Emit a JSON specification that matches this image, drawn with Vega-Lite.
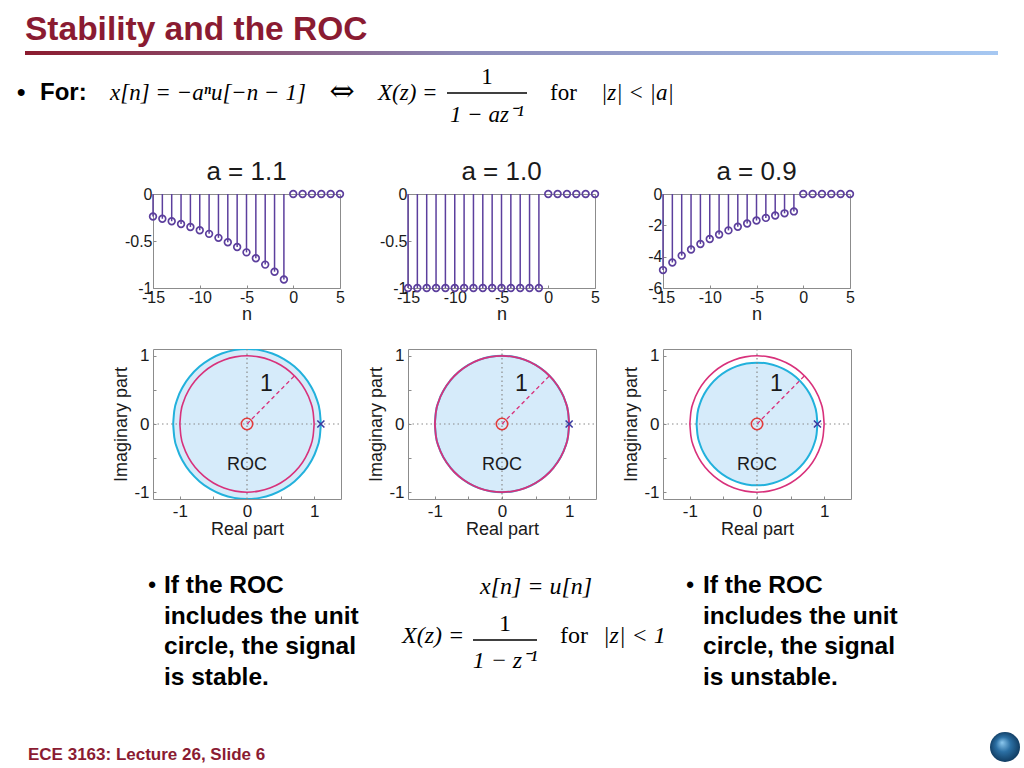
{
  "$schema": "https://vega.github.io/schema/vega-lite/v6.json",
  "padding": 0,
  "background": "white",
  "config": {
    "view": {"stroke": null},
    "font": "Liberation Sans",
    "axis": {"labelFont": "Liberation Sans", "titleFont": "Liberation Sans", "labelColor": "#1a1a1a", "titleColor": "#1a1a1a", "titleFontWeight": "normal", "domain": false, "grid": false, "tickColor": "#8c8c8c", "tickSize": -3, "labelFlush": false, "labelOverlap": false}
  },
  "datasets": {
    "stems": [
      {"a": "1.1", "n": -15, "v": -0.2394}, {"a": "1.1", "n": -14, "v": -0.2633}, {"a": "1.1", "n": -13, "v": -0.2897}, {"a": "1.1", "n": -12, "v": -0.3186}, {"a": "1.1", "n": -11, "v": -0.3505}, {"a": "1.1", "n": -10, "v": -0.3855}, {"a": "1.1", "n": -9, "v": -0.4241}, {"a": "1.1", "n": -8, "v": -0.4665}, {"a": "1.1", "n": -7, "v": -0.5132}, {"a": "1.1", "n": -6, "v": -0.5645}, {"a": "1.1", "n": -5, "v": -0.6209}, {"a": "1.1", "n": -4, "v": -0.683}, {"a": "1.1", "n": -3, "v": -0.7513}, {"a": "1.1", "n": -2, "v": -0.8264}, {"a": "1.1", "n": -1, "v": -0.9091}, {"a": "1.1", "n": 0, "v": 0}, {"a": "1.1", "n": 1, "v": 0}, {"a": "1.1", "n": 2, "v": 0}, {"a": "1.1", "n": 3, "v": 0}, {"a": "1.1", "n": 4, "v": 0}, {"a": "1.1", "n": 5, "v": 0},
      {"a": "1.0", "n": -15, "v": -1}, {"a": "1.0", "n": -14, "v": -1}, {"a": "1.0", "n": -13, "v": -1}, {"a": "1.0", "n": -12, "v": -1}, {"a": "1.0", "n": -11, "v": -1}, {"a": "1.0", "n": -10, "v": -1}, {"a": "1.0", "n": -9, "v": -1}, {"a": "1.0", "n": -8, "v": -1}, {"a": "1.0", "n": -7, "v": -1}, {"a": "1.0", "n": -6, "v": -1}, {"a": "1.0", "n": -5, "v": -1}, {"a": "1.0", "n": -4, "v": -1}, {"a": "1.0", "n": -3, "v": -1}, {"a": "1.0", "n": -2, "v": -1}, {"a": "1.0", "n": -1, "v": -1}, {"a": "1.0", "n": 0, "v": 0}, {"a": "1.0", "n": 1, "v": 0}, {"a": "1.0", "n": 2, "v": 0}, {"a": "1.0", "n": 3, "v": 0}, {"a": "1.0", "n": 4, "v": 0}, {"a": "1.0", "n": 5, "v": 0},
      {"a": "0.9", "n": -15, "v": -4.857}, {"a": "0.9", "n": -14, "v": -4.3713}, {"a": "0.9", "n": -13, "v": -3.9342}, {"a": "0.9", "n": -12, "v": -3.5407}, {"a": "0.9", "n": -11, "v": -3.1866}, {"a": "0.9", "n": -10, "v": -2.868}, {"a": "0.9", "n": -9, "v": -2.5812}, {"a": "0.9", "n": -8, "v": -2.3231}, {"a": "0.9", "n": -7, "v": -2.0908}, {"a": "0.9", "n": -6, "v": -1.8817}, {"a": "0.9", "n": -5, "v": -1.6935}, {"a": "0.9", "n": -4, "v": -1.5242}, {"a": "0.9", "n": -3, "v": -1.3717}, {"a": "0.9", "n": -2, "v": -1.2346}, {"a": "0.9", "n": -1, "v": -1.1111}, {"a": "0.9", "n": 0, "v": 0}, {"a": "0.9", "n": 1, "v": 0}, {"a": "0.9", "n": 2, "v": 0}, {"a": "0.9", "n": 3, "v": 0}, {"a": "0.9", "n": 4, "v": 0}, {"a": "0.9", "n": 5, "v": 0}
    ],
    "circ": [
      {"c": "r11", "x": 1.1, "y": 0, "y2": 0}, {"c": "r11", "x": 1.0833, "y": 0.191, "y2": -0.191}, {"c": "r11", "x": 1.0337, "y": 0.3762, "y2": -0.3762}, {"c": "r11", "x": 0.9526, "y": 0.55, "y2": -0.55}, {"c": "r11", "x": 0.8426, "y": 0.7071, "y2": -0.7071}, {"c": "r11", "x": 0.7071, "y": 0.8426, "y2": -0.8426}, {"c": "r11", "x": 0.55, "y": 0.9526, "y2": -0.9526}, {"c": "r11", "x": 0.3762, "y": 1.0337, "y2": -1.0337}, {"c": "r11", "x": 0.191, "y": 1.0833, "y2": -1.0833}, {"c": "r11", "x": 0, "y": 1.1, "y2": -1.1}, {"c": "r11", "x": -0.191, "y": 1.0833, "y2": -1.0833}, {"c": "r11", "x": -0.3762, "y": 1.0337, "y2": -1.0337}, {"c": "r11", "x": -0.55, "y": 0.9526, "y2": -0.9526}, {"c": "r11", "x": -0.7071, "y": 0.8426, "y2": -0.8426}, {"c": "r11", "x": -0.8426, "y": 0.7071, "y2": -0.7071}, {"c": "r11", "x": -0.9526, "y": 0.55, "y2": -0.55}, {"c": "r11", "x": -1.0337, "y": 0.3762, "y2": -0.3762}, {"c": "r11", "x": -1.0833, "y": 0.191, "y2": -0.191}, {"c": "r11", "x": -1.1, "y": 0, "y2": 0},
      {"c": "r10", "x": 1, "y": 0, "y2": 0}, {"c": "r10", "x": 0.9848, "y": 0.1736, "y2": -0.1736}, {"c": "r10", "x": 0.9397, "y": 0.342, "y2": -0.342}, {"c": "r10", "x": 0.866, "y": 0.5, "y2": -0.5}, {"c": "r10", "x": 0.766, "y": 0.6428, "y2": -0.6428}, {"c": "r10", "x": 0.6428, "y": 0.766, "y2": -0.766}, {"c": "r10", "x": 0.5, "y": 0.866, "y2": -0.866}, {"c": "r10", "x": 0.342, "y": 0.9397, "y2": -0.9397}, {"c": "r10", "x": 0.1736, "y": 0.9848, "y2": -0.9848}, {"c": "r10", "x": 0, "y": 1, "y2": -1}, {"c": "r10", "x": -0.1736, "y": 0.9848, "y2": -0.9848}, {"c": "r10", "x": -0.342, "y": 0.9397, "y2": -0.9397}, {"c": "r10", "x": -0.5, "y": 0.866, "y2": -0.866}, {"c": "r10", "x": -0.6428, "y": 0.766, "y2": -0.766}, {"c": "r10", "x": -0.766, "y": 0.6428, "y2": -0.6428}, {"c": "r10", "x": -0.866, "y": 0.5, "y2": -0.5}, {"c": "r10", "x": -0.9397, "y": 0.342, "y2": -0.342}, {"c": "r10", "x": -0.9848, "y": 0.1736, "y2": -0.1736}, {"c": "r10", "x": -1, "y": 0, "y2": 0},
      {"c": "r09", "x": 0.9, "y": 0, "y2": 0}, {"c": "r09", "x": 0.8863, "y": 0.1563, "y2": -0.1563}, {"c": "r09", "x": 0.8457, "y": 0.3078, "y2": -0.3078}, {"c": "r09", "x": 0.7794, "y": 0.45, "y2": -0.45}, {"c": "r09", "x": 0.6894, "y": 0.5785, "y2": -0.5785}, {"c": "r09", "x": 0.5785, "y": 0.6894, "y2": -0.6894}, {"c": "r09", "x": 0.45, "y": 0.7794, "y2": -0.7794}, {"c": "r09", "x": 0.3078, "y": 0.8457, "y2": -0.8457}, {"c": "r09", "x": 0.1563, "y": 0.8863, "y2": -0.8863}, {"c": "r09", "x": 0, "y": 0.9, "y2": -0.9}, {"c": "r09", "x": -0.1563, "y": 0.8863, "y2": -0.8863}, {"c": "r09", "x": -0.3078, "y": 0.8457, "y2": -0.8457}, {"c": "r09", "x": -0.45, "y": 0.7794, "y2": -0.7794}, {"c": "r09", "x": -0.5785, "y": 0.6894, "y2": -0.6894}, {"c": "r09", "x": -0.6894, "y": 0.5785, "y2": -0.5785}, {"c": "r09", "x": -0.7794, "y": 0.45, "y2": -0.45}, {"c": "r09", "x": -0.8457, "y": 0.3078, "y2": -0.3078}, {"c": "r09", "x": -0.8863, "y": 0.1563, "y2": -0.1563}, {"c": "r09", "x": -0.9, "y": 0, "y2": 0}
    ]
  },
  "vconcat": [
    {
      "width": 1024, "height": 136,
      "encoding": {
        "x": {"field": "x", "type": "quantitative", "scale": {"domain": [0, 1024], "nice": false, "zero": false}, "axis": null},
        "y": {"field": "y", "type": "quantitative", "scale": {"domain": [0, 136], "reverse": true, "nice": false, "zero": false}, "axis": null}
      },
      "layer": [
        {"data": {"values": [{"x": 25, "y": 40, "t": "Stability and the ROC"}]}, "mark": {"type": "text", "align": "left", "baseline": "alphabetic", "font": "Liberation Sans", "fontWeight": "bold", "fontSize": 33.5, "color": "#8a1b32"}, "encoding": {"text": {"field": "t"}}},
        {"data": {"values": [{"x": 25, "x2": 998, "y": 51, "y2": 55}]}, "mark": {"type": "rect", "fill": {"gradient": "linear", "x1": 0, "y1": 0, "x2": 1, "y2": 0, "stops": [{"offset": 0, "color": "#8b1a2e"}, {"offset": 0.45, "color": "#8a88b6"}, {"offset": 1, "color": "#a6c8f2"}]}}, "encoding": {"x2": {"field": "x2"}, "y2": {"field": "y2"}}},
        {"data": {"values": [{"x": 17, "y": 100, "t": "•"}, {"x": 40, "y": 100, "t": "For:"}]}, "mark": {"type": "text", "align": "left", "baseline": "alphabetic", "font": "Liberation Sans", "fontWeight": "bold", "fontSize": 24, "color": "#000000"}, "encoding": {"text": {"field": "t"}}},
        {"data": {"values": [{"x": 110, "y": 100, "t": "x[n] = −aⁿu[−n − 1]"}, {"x": 378, "y": 100, "t": "X(z) ="}, {"x": 601, "y": 100, "t": "|z| < |a|"}]}, "mark": {"type": "text", "align": "left", "baseline": "alphabetic", "font": "Liberation Serif", "fontStyle": "italic", "fontSize": 23, "color": "#000000"}, "encoding": {"text": {"field": "t"}}},
        {"data": {"values": [{"x": 550, "y": 100, "t": "for"}]}, "mark": {"type": "text", "align": "left", "baseline": "alphabetic", "font": "Liberation Serif", "fontSize": 23, "color": "#000000"}, "encoding": {"text": {"field": "t"}}},
        {"data": {"values": [{"x": 342, "y": 101, "t": "⇔"}]}, "mark": {"type": "text", "align": "center", "baseline": "alphabetic", "font": "DejaVu Serif", "fontSize": 30, "color": "#000000"}, "encoding": {"text": {"field": "t"}}},
        {"data": {"values": [{"x": 487, "y": 84, "t": "1"}]}, "mark": {"type": "text", "align": "center", "baseline": "alphabetic", "font": "Liberation Serif", "fontSize": 23, "color": "#000000"}, "encoding": {"text": {"field": "t"}}},
        {"data": {"values": [{"x": 487, "y": 122, "t": "1 − az⁻¹"}]}, "mark": {"type": "text", "align": "center", "baseline": "alphabetic", "font": "Liberation Serif", "fontStyle": "italic", "fontSize": 23, "color": "#000000"}, "encoding": {"text": {"field": "t"}}},
        {"data": {"values": [{"x": 447, "x2": 527, "y": 93}]}, "mark": {"type": "rule", "color": "#000000", "strokeWidth": 1.3}, "encoding": {"x2": {"field": "x2"}}}
      ]
    },
    {
      "hconcat": [
        {"width": 85, "height": 94, "data": {"values": [{"t": ""}]}, "mark": {"type": "text"}, "encoding": {"text": {"field": "t"}}},
        {
          "width": 187, "height": 94,
          "view": {"stroke": "#8c8c8c"},
          "title": {"text": "a = 1.1", "fontSize": 26, "font": "Liberation Sans", "fontWeight": "normal", "color": "#1a1a1a", "anchor": "middle", "frame": "group", "baseline": "alphabetic", "offset": -20},
          "data": {"name": "stems"},
          "transform": [{"filter": "datum.a == '1.1'"}],
          "encoding": {
            "x": {"field": "n", "type": "quantitative", "scale": {"domain": [-15, 5], "nice": false, "zero": false}, "axis": {"values": [-15, -10, -5, 0, 5], "labelExpr": "toString(datum.value)", "title": "n", "labelFontSize": 16, "titleFontSize": 18, "labelPadding": 4, "titlePadding": 0}},
            "y": {"field": "v", "type": "quantitative", "scale": {"domain": [-1, 0], "nice": false, "zero": false}, "axis": {"values": [-1, -0.5, 0], "labelExpr": "toString(datum.value)", "title": null, "labelFontSize": 16, "labelPadding": 4}}
          },
          "layer": [
            {"mark": {"type": "rule", "color": "#5c3f9d", "strokeWidth": 1.5}, "encoding": {"y2": {"datum": 0}}},
            {"mark": {"type": "point", "shape": "circle", "filled": false, "color": "#5c3f9d", "size": 45, "strokeWidth": 1.7, "opacity": 1}}
          ]
        },
        {
          "width": 187, "height": 94,
          "view": {"stroke": "#8c8c8c"},
          "title": {"text": "a = 1.0", "fontSize": 26, "font": "Liberation Sans", "fontWeight": "normal", "color": "#1a1a1a", "anchor": "middle", "frame": "group", "baseline": "alphabetic", "offset": -20},
          "data": {"name": "stems"},
          "transform": [{"filter": "datum.a == '1.0'"}],
          "encoding": {
            "x": {"field": "n", "type": "quantitative", "scale": {"domain": [-15, 5], "nice": false, "zero": false}, "axis": {"values": [-15, -10, -5, 0, 5], "labelExpr": "toString(datum.value)", "title": "n", "labelFontSize": 16, "titleFontSize": 18, "labelPadding": 4, "titlePadding": 0}},
            "y": {"field": "v", "type": "quantitative", "scale": {"domain": [-1, 0], "nice": false, "zero": false}, "axis": {"values": [-1, -0.5, 0], "labelExpr": "toString(datum.value)", "title": null, "labelFontSize": 16, "labelPadding": 4}}
          },
          "layer": [
            {"mark": {"type": "rule", "color": "#5c3f9d", "strokeWidth": 1.5}, "encoding": {"y2": {"datum": 0}}},
            {"mark": {"type": "point", "shape": "circle", "filled": false, "color": "#5c3f9d", "size": 45, "strokeWidth": 1.7, "opacity": 1}}
          ]
        },
        {
          "width": 187, "height": 94,
          "view": {"stroke": "#8c8c8c"},
          "title": {"text": "a = 0.9", "fontSize": 26, "font": "Liberation Sans", "fontWeight": "normal", "color": "#1a1a1a", "anchor": "middle", "frame": "group", "baseline": "alphabetic", "offset": -20},
          "data": {"name": "stems"},
          "transform": [{"filter": "datum.a == '0.9'"}],
          "encoding": {
            "x": {"field": "n", "type": "quantitative", "scale": {"domain": [-15, 5], "nice": false, "zero": false}, "axis": {"values": [-15, -10, -5, 0, 5], "labelExpr": "toString(datum.value)", "title": "n", "labelFontSize": 16, "titleFontSize": 18, "labelPadding": 4, "titlePadding": 0}},
            "y": {"field": "v", "type": "quantitative", "scale": {"domain": [-6, 0], "nice": false, "zero": false}, "axis": {"values": [-6, -4, -2, 0], "labelExpr": "toString(datum.value)", "title": null, "labelFontSize": 16, "labelPadding": 4}}
          },
          "layer": [
            {"mark": {"type": "rule", "color": "#5c3f9d", "strokeWidth": 1.5}, "encoding": {"y2": {"datum": 0}}},
            {"mark": {"type": "point", "shape": "circle", "filled": false, "color": "#5c3f9d", "size": 45, "strokeWidth": 1.7, "opacity": 1}}
          ]
        }
      ],
      "spacing": 68,
      "bounds": "flush"
    },
    {
      "hconcat": [
        {"width": 86, "height": 150, "data": {"values": [{"t": ""}]}, "mark": {"type": "text"}, "encoding": {"text": {"field": "t"}}},
        {
          "width": 188, "height": 150,
          "view": {"stroke": "#8c8c8c"},
          "encoding": {
            "x": {"field": "x", "type": "quantitative", "scale": {"domain": [-1.4, 1.4], "nice": false, "zero": false}, "axis": {"values": [-1, -0.5, 0, 0.5, 1], "labelExpr": "datum.value % 1 === 0 ? toString(datum.value) : ''", "title": "Real part", "labelFontSize": 17, "titleFontSize": 18, "labelPadding": 7, "titlePadding": 1}},
            "y": {"field": "y", "type": "quantitative", "scale": {"domain": [-1.1, 1.1], "nice": false, "zero": false}, "axis": {"values": [-1, -0.5, 0, 0.5, 1], "labelExpr": "datum.value % 1 === 0 ? toString(datum.value) : ''", "title": "Imaginary part", "labelFontSize": 17, "titleFontSize": 18, "labelPadding": 7, "titlePadding": 3}}
          },
          "layer": [
            {"data": {"name": "circ"}, "transform": [{"filter": "datum.c == 'r11'"}], "mark": {"type": "area", "interpolate": "monotone", "fill": "#d6ebfa", "stroke": "#22b1dc", "strokeWidth": 2, "fillOpacity": 1, "clip": true}, "encoding": {"y2": {"field": "y2"}}},
            {"data": {"values": [{"x": 0, "y": -1.1}, {"x": 0, "y": 1.1}]}, "mark": {"type": "line", "color": "#8a8a8a", "strokeWidth": 1.2, "strokeDash": [1.5, 3]}},
            {"data": {"values": [{"x": -1.4, "y": 0}, {"x": 1.4, "y": 0}]}, "mark": {"type": "line", "color": "#8a8a8a", "strokeWidth": 1.2, "strokeDash": [1.5, 3]}},
            {"data": {"name": "circ"}, "transform": [{"filter": "datum.c == 'r10'"}], "mark": {"type": "area", "interpolate": "monotone", "fill": "transparent", "stroke": "#d8317b", "strokeWidth": 1.6, "clip": true}, "encoding": {"y2": {"field": "y2"}}},
            {"data": {"values": [{"x": 0, "y": 0}, {"x": 0.7071, "y": 0.7071}]}, "mark": {"type": "line", "color": "#d8317b", "strokeWidth": 1.3, "strokeDash": [4, 3]}},
            {"data": {"values": [{"x": 0, "y": 0}]}, "mark": {"type": "point", "shape": "circle", "filled": false, "color": "#e23a3a", "size": 130, "strokeWidth": 1.6, "opacity": 1}},
            {"data": {"values": [{"x": 1.1, "y": 0}]}, "mark": {"type": "point", "shape": "M-1,-1L1,1M-1,1L1,-1", "filled": false, "color": "#3a3aa0", "size": 50, "strokeWidth": 1.6, "opacity": 1}},
            {"data": {"values": [{"x": 0.29, "y": 0.58, "t": "1"}]}, "mark": {"type": "text", "font": "Liberation Sans", "fontSize": 23, "color": "#1a1a1a"}, "encoding": {"text": {"field": "t"}}},
            {"data": {"values": [{"x": 0, "y": -0.6, "t": "ROC"}]}, "mark": {"type": "text", "font": "Liberation Sans", "fontSize": 18, "color": "#1a1a1a"}, "encoding": {"text": {"field": "t"}}}
          ]
        },
        {
          "width": 188, "height": 150,
          "view": {"stroke": "#8c8c8c"},
          "encoding": {
            "x": {"field": "x", "type": "quantitative", "scale": {"domain": [-1.4, 1.4], "nice": false, "zero": false}, "axis": {"values": [-1, -0.5, 0, 0.5, 1], "labelExpr": "datum.value % 1 === 0 ? toString(datum.value) : ''", "title": "Real part", "labelFontSize": 17, "titleFontSize": 18, "labelPadding": 7, "titlePadding": 1}},
            "y": {"field": "y", "type": "quantitative", "scale": {"domain": [-1.1, 1.1], "nice": false, "zero": false}, "axis": {"values": [-1, -0.5, 0, 0.5, 1], "labelExpr": "datum.value % 1 === 0 ? toString(datum.value) : ''", "title": "Imaginary part", "labelFontSize": 17, "titleFontSize": 18, "labelPadding": 7, "titlePadding": 3}}
          },
          "layer": [
            {"data": {"name": "circ"}, "transform": [{"filter": "datum.c == 'r10'"}], "mark": {"type": "area", "interpolate": "monotone", "fill": "#d6ebfa", "stroke": "#22b1dc", "strokeWidth": 2, "fillOpacity": 1, "clip": true}, "encoding": {"y2": {"field": "y2"}}},
            {"data": {"values": [{"x": 0, "y": -1.1}, {"x": 0, "y": 1.1}]}, "mark": {"type": "line", "color": "#8a8a8a", "strokeWidth": 1.2, "strokeDash": [1.5, 3]}},
            {"data": {"values": [{"x": -1.4, "y": 0}, {"x": 1.4, "y": 0}]}, "mark": {"type": "line", "color": "#8a8a8a", "strokeWidth": 1.2, "strokeDash": [1.5, 3]}},
            {"data": {"name": "circ"}, "transform": [{"filter": "datum.c == 'r10'"}], "mark": {"type": "area", "interpolate": "monotone", "fill": "transparent", "stroke": "#d8317b", "strokeWidth": 1.8, "clip": true}, "encoding": {"y2": {"field": "y2"}}},
            {"data": {"values": [{"x": 0, "y": 0}, {"x": 0.7071, "y": 0.7071}]}, "mark": {"type": "line", "color": "#d8317b", "strokeWidth": 1.3, "strokeDash": [4, 3]}},
            {"data": {"values": [{"x": 0, "y": 0}]}, "mark": {"type": "point", "shape": "circle", "filled": false, "color": "#e23a3a", "size": 130, "strokeWidth": 1.6, "opacity": 1}},
            {"data": {"values": [{"x": 1.0, "y": 0}]}, "mark": {"type": "point", "shape": "M-1,-1L1,1M-1,1L1,-1", "filled": false, "color": "#3a3aa0", "size": 50, "strokeWidth": 1.6, "opacity": 1}},
            {"data": {"values": [{"x": 0.29, "y": 0.58, "t": "1"}]}, "mark": {"type": "text", "font": "Liberation Sans", "fontSize": 23, "color": "#1a1a1a"}, "encoding": {"text": {"field": "t"}}},
            {"data": {"values": [{"x": 0, "y": -0.6, "t": "ROC"}]}, "mark": {"type": "text", "font": "Liberation Sans", "fontSize": 18, "color": "#1a1a1a"}, "encoding": {"text": {"field": "t"}}}
          ]
        },
        {
          "width": 188, "height": 150,
          "view": {"stroke": "#8c8c8c"},
          "encoding": {
            "x": {"field": "x", "type": "quantitative", "scale": {"domain": [-1.4, 1.4], "nice": false, "zero": false}, "axis": {"values": [-1, -0.5, 0, 0.5, 1], "labelExpr": "datum.value % 1 === 0 ? toString(datum.value) : ''", "title": "Real part", "labelFontSize": 17, "titleFontSize": 18, "labelPadding": 7, "titlePadding": 1}},
            "y": {"field": "y", "type": "quantitative", "scale": {"domain": [-1.1, 1.1], "nice": false, "zero": false}, "axis": {"values": [-1, -0.5, 0, 0.5, 1], "labelExpr": "datum.value % 1 === 0 ? toString(datum.value) : ''", "title": "Imaginary part", "labelFontSize": 17, "titleFontSize": 18, "labelPadding": 7, "titlePadding": 3}}
          },
          "layer": [
            {"data": {"name": "circ"}, "transform": [{"filter": "datum.c == 'r09'"}], "mark": {"type": "area", "interpolate": "monotone", "fill": "#d6ebfa", "stroke": "#22b1dc", "strokeWidth": 2, "fillOpacity": 1, "clip": true}, "encoding": {"y2": {"field": "y2"}}},
            {"data": {"values": [{"x": 0, "y": -1.1}, {"x": 0, "y": 1.1}]}, "mark": {"type": "line", "color": "#8a8a8a", "strokeWidth": 1.2, "strokeDash": [1.5, 3]}},
            {"data": {"values": [{"x": -1.4, "y": 0}, {"x": 1.4, "y": 0}]}, "mark": {"type": "line", "color": "#8a8a8a", "strokeWidth": 1.2, "strokeDash": [1.5, 3]}},
            {"data": {"name": "circ"}, "transform": [{"filter": "datum.c == 'r10'"}], "mark": {"type": "area", "interpolate": "monotone", "fill": "transparent", "stroke": "#d8317b", "strokeWidth": 1.6, "clip": true}, "encoding": {"y2": {"field": "y2"}}},
            {"data": {"values": [{"x": 0, "y": 0}, {"x": 0.7071, "y": 0.7071}]}, "mark": {"type": "line", "color": "#d8317b", "strokeWidth": 1.3, "strokeDash": [4, 3]}},
            {"data": {"values": [{"x": 0, "y": 0}]}, "mark": {"type": "point", "shape": "circle", "filled": false, "color": "#e23a3a", "size": 130, "strokeWidth": 1.6, "opacity": 1}},
            {"data": {"values": [{"x": 0.9, "y": 0}]}, "mark": {"type": "point", "shape": "M-1,-1L1,1M-1,1L1,-1", "filled": false, "color": "#3a3aa0", "size": 50, "strokeWidth": 1.6, "opacity": 1}},
            {"data": {"values": [{"x": 0.29, "y": 0.58, "t": "1"}]}, "mark": {"type": "text", "font": "Liberation Sans", "fontSize": 23, "color": "#1a1a1a"}, "encoding": {"text": {"field": "t"}}},
            {"data": {"values": [{"x": 0, "y": -0.6, "t": "ROC"}]}, "mark": {"type": "text", "font": "Liberation Sans", "fontSize": 18, "color": "#1a1a1a"}, "encoding": {"text": {"field": "t"}}}
          ]
        }
      ],
      "spacing": 67,
      "bounds": "flush"
    },
    {
      "width": 1024, "height": 207,
      "encoding": {
        "x": {"field": "x", "type": "quantitative", "scale": {"domain": [0, 1024], "nice": false, "zero": false}, "axis": null},
        "y": {"field": "y", "type": "quantitative", "scale": {"domain": [561, 768], "reverse": true, "nice": false, "zero": false}, "axis": null}
      },
      "layer": [
        {"data": {"values": [{"x": 164, "y": 593, "t": "If the ROC\nincludes the unit\ncircle, the signal\nis stable."}, {"x": 703, "y": 593, "t": "If the ROC\nincludes the unit\ncircle, the signal\nis unstable."}]}, "mark": {"type": "text", "align": "left", "baseline": "alphabetic", "font": "Liberation Sans", "fontWeight": "bold", "fontSize": 24.5, "lineBreak": "\n", "lineHeight": 30.7, "color": "#000000"}, "encoding": {"text": {"field": "t"}}},
        {"data": {"values": [{"x": 152, "y": 592, "t": "•"}, {"x": 690, "y": 592, "t": "•"}]}, "mark": {"type": "text", "align": "center", "baseline": "alphabetic", "font": "Liberation Sans", "fontWeight": "bold", "fontSize": 22, "color": "#000000"}, "encoding": {"text": {"field": "t"}}},
        {"data": {"values": [{"x": 480, "y": 594, "t": "x[n] = u[n]"}, {"x": 402, "y": 643, "t": "X(z) ="}, {"x": 603, "y": 643, "t": "|z| < 1"}]}, "mark": {"type": "text", "align": "left", "baseline": "alphabetic", "font": "Liberation Serif", "fontStyle": "italic", "fontSize": 24, "color": "#000000"}, "encoding": {"text": {"field": "t"}}},
        {"data": {"values": [{"x": 560, "y": 643, "t": "for"}]}, "mark": {"type": "text", "align": "left", "baseline": "alphabetic", "font": "Liberation Serif", "fontSize": 24, "color": "#000000"}, "encoding": {"text": {"field": "t"}}},
        {"data": {"values": [{"x": 505, "y": 631, "t": "1"}]}, "mark": {"type": "text", "align": "center", "baseline": "alphabetic", "font": "Liberation Serif", "fontSize": 24, "color": "#000000"}, "encoding": {"text": {"field": "t"}}},
        {"data": {"values": [{"x": 505, "y": 668, "t": "1 − z⁻¹"}]}, "mark": {"type": "text", "align": "center", "baseline": "alphabetic", "font": "Liberation Serif", "fontStyle": "italic", "fontSize": 24, "color": "#000000"}, "encoding": {"text": {"field": "t"}}},
        {"data": {"values": [{"x": 473, "x2": 537, "y": 640}]}, "mark": {"type": "rule", "color": "#000000", "strokeWidth": 1.3}, "encoding": {"x2": {"field": "x2"}}},
        {"data": {"values": [{"x": 28, "y": 760, "t": "ECE 3163: Lecture 26, Slide 6"}]}, "mark": {"type": "text", "align": "left", "baseline": "alphabetic", "font": "Liberation Sans", "fontWeight": "bold", "fontSize": 17, "color": "#8a1b32"}, "encoding": {"text": {"field": "t"}}},
        {"data": {"values": [{"x": 1005, "y": 747}]}, "mark": {"type": "point", "shape": "circle", "filled": true, "size": 900, "opacity": 1, "fill": {"gradient": "radial", "x1": 0.4, "y1": 0.35, "r1": 0, "x2": 0.5, "y2": 0.5, "r2": 0.55, "stops": [{"offset": 0, "color": "#8cc8ee"}, {"offset": 0.45, "color": "#2b6fa3"}, {"offset": 1, "color": "#0d3558"}]}}}
      ]
    }
  ],
  "spacing": 22
}
